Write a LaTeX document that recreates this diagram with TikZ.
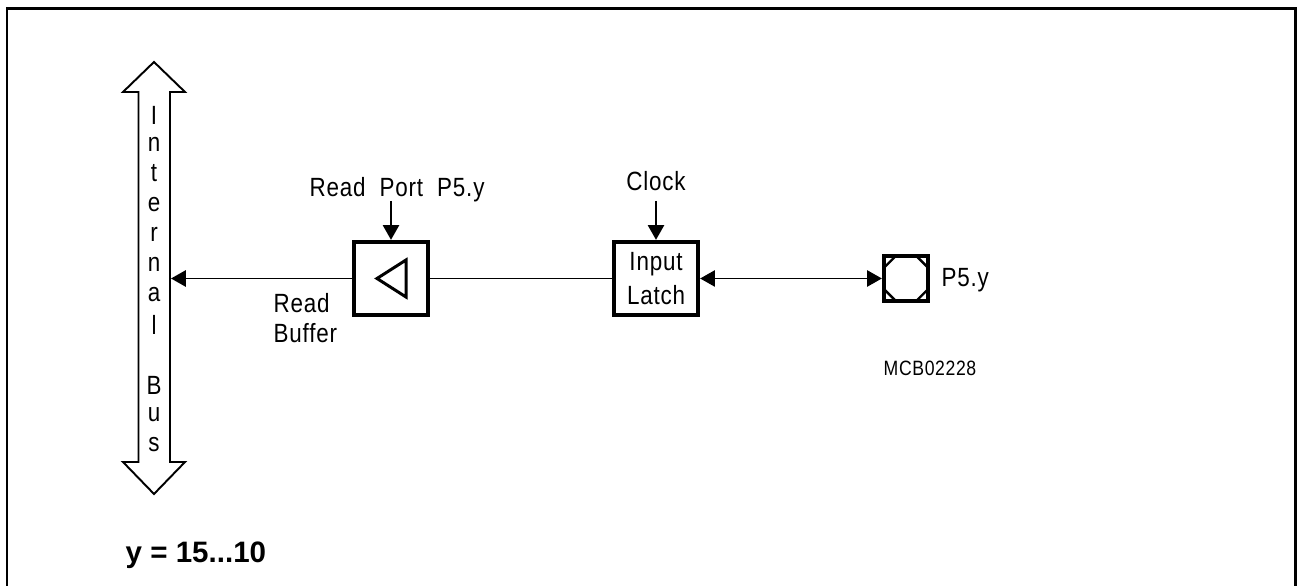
\documentclass[tikz,border=0pt]{standalone}
\usepackage{fontspec}
\setmainfont[FakeStretch=0.85,LetterSpace=3]{Liberation Sans}
\newfontfamily\headfont{Liberation Sans}
\usetikzlibrary{arrows.meta}
\definecolor{figline}{RGB}{0,0,0}
\tikzset{
  lab/.style    ={font=\fontsize{7.5pt}{8.5pt}\selectfont, inner sep=0pt, align=left},
  labs/.style   ={font=\fontsize{5.9pt}{7pt}\selectfont, inner sep=0pt},
  buslab/.style ={lab, anchor=base},
  blockbox/.style={draw=figline, line width=1.2pt, inner sep=0pt, align=center},
  padbox/.style ={draw=figline, line width=1.2pt, minimum width=0.44cm, minimum height=0.45cm, inner sep=0pt},
  sig/.style    ={draw=figline, line width=0.55pt},
  ptr/.style    ={sig, -{Triangle[length=4.2pt,width=4.6pt]}},
  ptrs/.style   ={sig, {Triangle[length=4.2pt,width=4.6pt]}-{Triangle[length=4.2pt,width=4.6pt]}},
  outl/.style   ={draw=figline, line width=0.55pt, line join=miter},
  padcut/.style ={draw=figline, line width=0.7pt, shorten <=0.6pt, shorten >=0.6pt},
}
\begin{document}
\begin{tikzpicture}[x=0.01cm,y=-0.01cm]
  \useasboundingbox (0,0) rectangle (1297,586);
  % frame, open at the bottom
  \draw[draw=figline,line width=0.85pt] (7,590) -- (7,9) -- (1295.5,9) -- (1295.5,590);
  % bus
  \draw[outl] (138.5,92) -- (123,92) -- (154,62) -- (185,92) -- (170,92) -- (170,462) -- (185,462) -- (154,494) -- (123,462) -- (138.5,462) -- cycle;
  \coordinate (busport) at (171,278.5);
  \node[buslab] (busi) at (154,125) {I};
  \node[buslab] (busn) at (154,152) {n};
  \node[buslab] (bust) at (154,182) {t};
  \node[buslab] (buse) at (154,212) {e};
  \node[buslab] (busr) at (154,242) {r};
  \node[buslab] (busna) at (154,272) {n};
  \node[buslab] (busa) at (154,302) {a};
  \node[buslab] (busl) at (154,335) {l};
  \node[buslab] (busb) at (154,395) {B};
  \node[buslab] (busu) at (154,422) {u};
  \node[buslab] (buss) at (154,452) {s};
  % blocks
  \node[blockbox,minimum width=0.74cm,minimum height=0.73cm] (buffer) at (391,278.5) {};
  \draw[draw=figline,line width=0.85pt] (377,278.5) -- (406,260) -- (406,297) -- cycle;
  \node[blockbox,lab,align=center,minimum width=0.84cm,minimum height=0.73cm] (latch) at (656,278.5) {Input\\[1.1pt]Latch};
  \node[padbox] (pad) at (906,278.5) {};
  \draw[padcut] (pad.north west) ++(16,0) -- ++(-16,16);
  \draw[padcut] (pad.north east) ++(-16,0) -- ++(16,16);
  \draw[padcut] (pad.south west) ++(16,0) -- ++(-16,-16);
  \draw[padcut] (pad.south east) ++(-16,0) -- ++(16,-16);
  % labels
  \node[lab,anchor=base west] (readport) at (309,197) {Read\ \ Port\ \ P5.y};
  \node[lab,anchor=base] (clock) at (656,191) {Clock};
  \node[lab,anchor=north west] (readbuffer) at (273,293) {Read\\Buffer};
  \node[lab,anchor=base west] (padname) at (941,287) {P5.y};
  \node[labs,anchor=base west] (partno) at (883,376) {MCB02228};
  \node[font=\headfont\bfseries\fontsize{8.4pt}{10pt}\selectfont,inner sep=0pt,anchor=base west] (range) at (125,563) {y = 15...10};
  \coordinate (readin) at (391,201);
  \coordinate (clockin) at (656,201);
  % connectors
  \draw[ptr] (buffer.west) -- (busport);
  \draw[sig] (latch.west) -- (buffer.east);
  \draw[ptrs] (latch.east) -- (pad.west);
  \draw[ptr] (readin) -- (buffer.north);
  \draw[ptr] (clockin) -- (latch.north);
\end{tikzpicture}
\end{document}
